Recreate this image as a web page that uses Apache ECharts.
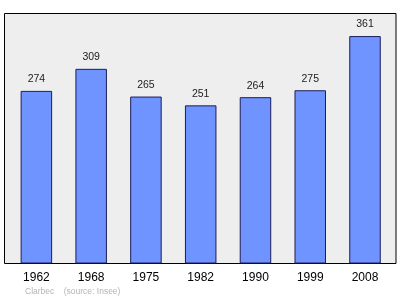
<!DOCTYPE html>
<html><head><meta charset="utf-8">
<script src="https://cdn.jsdelivr.net/npm/echarts@6/dist/echarts.min.js"></script>
<style>html,body{margin:0;padding:0;background:#fff}#c{width:400px;height:299px}</style>
</head><body><div id="c"></div>
<script>
var years = ['1962','1968','1975','1982','1990','1999','2008'];
var population = [274, 309, 265, 251, 264, 275, 361];
var footer = 'Clarbec    (source: Insee)';

var chart = echarts.init(document.getElementById('c'), null, {renderer:'canvas'});
chart.setOption({
  animation:false,
  graphic:[
    {type:'rect', shape:{x:4.5,y:13.5,width:391.5,height:250}, style:{fill:'#eeeeee', stroke:'#000', lineWidth:1}, z:-10},
    {type:'text', left:25, top:287, style:{text:footer, fill:'#b4b4b4', font:'8.5px "Liberation Sans", Arial, sans-serif'}}
  ],
  grid:{left:9, right:7.6, top:11.5, bottom:35.5},
  xAxis:{type:'category', data:years, axisLine:{show:false}, axisTick:{show:false},
    axisLabel:{color:'#000', fontSize:12, fontFamily:'Liberation Sans', margin:8}},
  yAxis:{type:'value', min:0, max:400, show:false, splitLine:{show:false}},
  series:[{type:'bar', data:population, barWidth:31.5,
    itemStyle:{color:'#7094ff', borderColor:'#1c1c5a', borderWidth:1},
    label:{show:true, position:'top', distance:6, color:'#222', fontSize:10.5, fontFamily:'Liberation Sans'}}]
});
</script></body></html>
